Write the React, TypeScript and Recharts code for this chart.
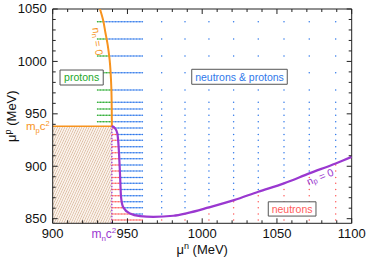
import React from 'react';
import { ScatterChart, Scatter, XAxis, YAxis, ReferenceArea, ReferenceLine, ReferenceDot } from 'recharts';

// ---- data ----
const MN = 939.57; // neutron mass (MeV)
const MP = 938.27; // proton mass (MeV)

const denseMuN = [930, 931, 932, 933, 934, 935, 936, 937, 938, 939, 940, 941, 942, 943, 944, 945, 946, 947, 948, 949, 950, 951, 952, 953, 954, 955, 956, 957, 958, 959, 960];
const sparseMuN = [972.9, 988.5, 1004.5, 1021.0, 1037.5, 1054.7, 1071.6, 1089.3];
const gridMuP = [848.7, 854.4, 860.4, 866.1, 871.9, 877.9, 883.7, 889.4, 895.4, 901.1, 907.2, 912.9, 918.6, 924.7, 930.4, 936.5, 942.5, 948.6, 954.6, 961.0, 972.7, 989.2, 1005.2, 1021.4, 1037.9];

const nnZeroCurve = [
  { x: 939.57, y: 938.27 },
  { x: 939.5, y: 953.6 },
  { x: 939.2, y: 975.6 },
  { x: 938.1, y: 1001.3 },
  { x: 936.8, y: 1015.6 },
  { x: 935.3, y: 1027.1 },
  { x: 933.7, y: 1039.5 },
  { x: 931.6, y: 1050 },
];

const npZeroCurve = [
  { x: 939.57, y: 938.27 },
  { x: 941.7, y: 936.2 },
  { x: 943.2, y: 931.4 },
  { x: 944.1, y: 918.6 },
  { x: 945.0, y: 893.2 },
  { x: 945.7, y: 870.9 },
  { x: 947.2, y: 860.8 },
  { x: 951.7, y: 855.0 },
  { x: 958.4, y: 852.5 },
  { x: 967.3, y: 851.8 },
  { x: 980.7, y: 852.8 },
  { x: 990.0, y: 855.3 },
  { x: 1004.5, y: 860.8 },
  { x: 1021.3, y: 867.7 },
  { x: 1037.5, y: 875.7 },
  { x: 1054.7, y: 883.7 },
  { x: 1071.6, y: 893.2 },
  { x: 1089.3, y: 902.7 },
  { x: 1100, y: 909 },
];

const xTicks = [900, 910, 920, 930, MN, 940, 950, 960, 970, 980, 990, 1000, 1010, 1020, 1030, 1040, 1050, 1060, 1070, 1080, 1090, 1100];
const xTicksTop = [900, 910, 920, 930, 940, 950, 960, 970, 980, 990, 1000, 1010, 1020, 1030, 1040, 1050, 1060, 1070, 1080, 1090, 1100];
const yTicks = [850, 860, 870, 880, 890, 900, 910, 920, 930, MP, 940, 950, 960, 970, 980, 990, 1000, 1010, 1020, 1030, 1040, 1050];
const yTicksRight = [850, 860, 870, 880, 890, 900, 910, 920, 930, 940, 950, 960, 970, 980, 990, 1000, 1010, 1020, 1030, 1040, 1050];

const X_DOMAIN = [900, 1100];
const Y_DOMAIN = [845.6, 1050];

// ---- styles ----
const ORANGE = '#f7931e';
const PURPLE = '#9a38d0';
const GREEN = '#22a82a';
const BLUE = '#2f78ea';
const RED = '#ff5c5c';
const AXIS = '#222';
const FONT = '"Liberation Sans", Arial, sans-serif';

// ---- region classification from curves ----
function orangeX(y: number) {
  const c = nnZeroCurve;
  for (let i = 0; i < c.length - 1; i++) {
    if (y >= c[i].y && y <= c[i + 1].y) {
      const t = (y - c[i].y) / (c[i + 1].y - c[i].y);
      return c[i].x + t * (c[i + 1].x - c[i].x);
    }
  }
  return c[c.length - 1].x;
}
function purpleY(x: number) {
  const c = npZeroCurve;
  for (let i = 0; i < c.length - 1; i++) {
    if (x >= c[i].x && x <= c[i + 1].x) {
      const t = (x - c[i].x) / (c[i + 1].x - c[i].x);
      return c[i].y + t * (c[i + 1].y - c[i].y);
    }
  }
  return c[c.length - 1].y;
}

const protonPts: { x: number; y: number }[] = [];
const bothPts: { x: number; y: number }[] = [];
const neutronPts: { x: number; y: number }[] = [];
[...denseMuN, ...sparseMuN].forEach((x) => {
  gridMuP.forEach((y) => {
    if (x < MN && y < MP) return;
    if (y >= MP) {
      if (x < orangeX(y)) protonPts.push({ x, y });
      else bothPts.push({ x, y });
    } else {
      if (y < purpleY(x)) neutronPts.push({ x, y });
      else bothPts.push({ x, y });
    }
  });
});

const dotShape = (color: string) => (p: any) => <circle cx={p.cx} cy={p.cy} r={0.75} fill={color} />;

// ---- ticks ----
const XTickBottom = (props: any) => {
  const { x, y, payload } = props;
  const v = payload.value;
  if (v === MN) {
    return (
      <text x={x - 8} y={y + 14.7} textAnchor="middle" fill={PURPLE} fontSize={12} fontFamily={FONT}>
        m<tspan fontSize={8} dy={3}>n</tspan><tspan dy={-3}>c</tspan><tspan fontSize={8} dy={-5}>2</tspan>
      </text>
    );
  }
  const major = v % 50 === 0;
  return (
    <g>
      <line x1={x} x2={x} y1={y} y2={y - (major ? 5 : 3)} stroke={AXIS} strokeWidth={1} />
      {major && (
        <text x={x} y={y + 14.7} textAnchor="middle" fontSize={13} fill="#111" fontFamily={FONT}>
          {v}
        </text>
      )}
    </g>
  );
};
const XTickTop = (props: any) => {
  const { x, y, payload } = props;
  const major = payload.value % 50 === 0;
  return <line x1={x} x2={x} y1={y} y2={y + (major ? 5 : 3)} stroke={AXIS} strokeWidth={1} />;
};
const YTickLeft = (props: any) => {
  const { x, y, payload } = props;
  const v = payload.value;
  if (v === MP) {
    return (
      <text x={x - 3} y={y + 4} textAnchor="end" fill={ORANGE} fontSize={11.5} fontFamily={FONT}>
        m<tspan fontSize={7.5} dy={2.5}>p</tspan><tspan dy={-2.5}>c</tspan><tspan fontSize={7.5} dy={-4.5}>2</tspan>
      </text>
    );
  }
  const major = v % 50 === 0;
  return (
    <g>
      <line x1={x} x2={x + (major ? 5 : 3)} y1={y} y2={y} stroke={AXIS} strokeWidth={1} />
      {major && (
        <text x={x - 6} y={y + 4.4} textAnchor="end" fontSize={13} fill="#111" fontFamily={FONT}>
          {v}
        </text>
      )}
    </g>
  );
};
const YTickRight = (props: any) => {
  const { x, y, payload } = props;
  const major = payload.value % 50 === 0;
  return <line x1={x} x2={x - (major ? 5 : 3)} y1={y} y2={y} stroke={AXIS} strokeWidth={1} />;
};

const XTitle = (props: any) => {
  const vb = props.viewBox || { x: 52.7, y: 223.3, width: 299, height: 0 };
  return (
    <text x={vb.x + vb.width / 2} y={vb.y + 30.5} textAnchor="middle" fontSize={13} fill="#111" fontFamily={FONT}>
      μ<tspan fontSize={9} dy={-5}>n</tspan><tspan dy={5}> (MeV)</tspan>
    </text>
  );
};
const YTitle = (props: any) => {
  const vb = props.viewBox || { x: 12.7, y: 9, width: 40, height: 214.3 };
  const cx = vb.x + vb.width - 36.5;
  const cy = vb.y + vb.height / 2;
  return (
    <text transform={`translate(${cx},${cy}) rotate(-90)`} textAnchor="middle" fontSize={13} fill="#111" fontFamily={FONT}>
      μ<tspan fontSize={9} dy={-5}>p</tspan><tspan dy={5}> (MeV)</tspan>
    </text>
  );
};

const hatchShape = (p: any) => (
  <g>
    <defs>
      <pattern id="vacHatch" patternUnits="userSpaceOnUse" width={2.2} height={2.2} patternTransform="rotate(25)">
        <rect width={2.2} height={2.2} fill="#fbf3ec" />
        <line x1={0} y1={0} x2={0} y2={2.2} stroke="#c99c78" strokeWidth={0.9} />
      </pattern>
    </defs>
    <rect x={p.x} y={p.y} width={p.width} height={p.height} fill="url(#vacHatch)" />
  </g>
);

const textShape = (label: React.ReactNode, color: string, angle: number) => (p: any) => (
  <text transform={`translate(${p.cx},${p.cy}) rotate(${angle})`} textAnchor="middle" dominantBaseline="middle" fontSize={10.5} fill={color} fontFamily={FONT}>
    {label}
  </text>
);

const boxLabel = (value: string, color: string) => ({ value, position: 'center' as const, fill: color, fontSize: 10.5, fontFamily: FONT });

export default function App() {
  return (
    <div style={{ position: 'absolute', left: 0, top: 0, fontFamily: FONT }}>
      <ScatterChart width={374} height={262} margin={{ top: 8, right: 21.3, bottom: 8.7, left: 12.7 }}>
        <XAxis type="number" dataKey="x" domain={X_DOMAIN} allowDataOverflow ticks={xTicks} interval={0} height={30} tickSize={0} tickMargin={0} tick={<XTickBottom />} axisLine={{ stroke: AXIS }} tickLine={false} label={<XTitle />} />
        <XAxis xAxisId="top" orientation="top" type="number" dataKey="x" domain={X_DOMAIN} allowDataOverflow ticks={xTicksTop} interval={0} height={1} tickSize={0} tickMargin={0} tick={<XTickTop />} axisLine={{ stroke: AXIS }} tickLine={false} />
        <YAxis type="number" dataKey="y" domain={Y_DOMAIN} allowDataOverflow ticks={yTicks} interval={0} width={40} tickSize={0} tickMargin={0} tick={<YTickLeft />} axisLine={{ stroke: AXIS }} tickLine={false} label={<YTitle />} />
        <YAxis yAxisId="right" orientation="right" type="number" dataKey="y" domain={Y_DOMAIN} allowDataOverflow ticks={yTicksRight} interval={0} width={1} tickSize={0} tickMargin={0} tick={<YTickRight />} axisLine={{ stroke: AXIS }} tickLine={false} />

        <ReferenceArea x1={900} x2={MN} y1={Y_DOMAIN[0]} y2={MP} shape={hatchShape} />

        <Scatter data={protonPts} shape={dotShape(GREEN)} isAnimationActive={false} />
        <Scatter data={bothPts} shape={dotShape(BLUE)} isAnimationActive={false} />
        <Scatter data={neutronPts} shape={dotShape(RED)} isAnimationActive={false} />

        <ReferenceLine segment={[{ x: 900, y: MP }, { x: MN, y: MP }]} stroke={ORANGE} strokeWidth={1.5} />
        <ReferenceLine segment={[{ x: MN, y: Y_DOMAIN[0] }, { x: MN, y: MP }]} stroke={PURPLE} strokeWidth={1.3} strokeDasharray="1.5 1.5" />

        <Scatter data={nnZeroCurve} line={{ stroke: ORANGE, strokeWidth: 2 }} lineJointType="monotoneY" shape={() => <g />} isAnimationActive={false} />
        <Scatter data={npZeroCurve} line={{ stroke: PURPLE, strokeWidth: 2.2 }} lineJointType="monotoneX" shape={() => <g />} isAnimationActive={false} />

        <ReferenceArea x1={904.9} x2={933.8} y1={977.5} y2={991.8} fill="#fff" fillOpacity={1} stroke="#555" strokeWidth={1} label={boxLabel('protons', GREEN)} zIndex={1500} />
        <ReferenceArea x1={993.0} x2={1056.9} y1={978.2} y2={992.5} fill="#fff" fillOpacity={1} stroke="#555" strokeWidth={1} label={boxLabel('neutrons & protons', BLUE)} zIndex={1500} />
        <ReferenceArea x1={1044.2} x2={1076.1} y1={852.5} y2={866.1} fill="#fff" fillOpacity={1} stroke="#555" strokeWidth={1} label={boxLabel('neutrons', RED)} zIndex={1500} />

        <ReferenceDot x={929.6} y={1019} r={0} shape={textShape(<>n<tspan fontSize={7.5} dy={2}>n</tspan><tspan dy={-2}> = 0</tspan></>, ORANGE, 82)} zIndex={1500} />
        <ReferenceDot x={1079.1} y={889.2} r={0} shape={textShape(<>n<tspan fontSize={7.5} dy={2}>p</tspan><tspan dy={-2}> = 0</tspan></>, PURPLE, -22)} zIndex={1500} />
      </ScatterChart>
    </div>
  );
}
